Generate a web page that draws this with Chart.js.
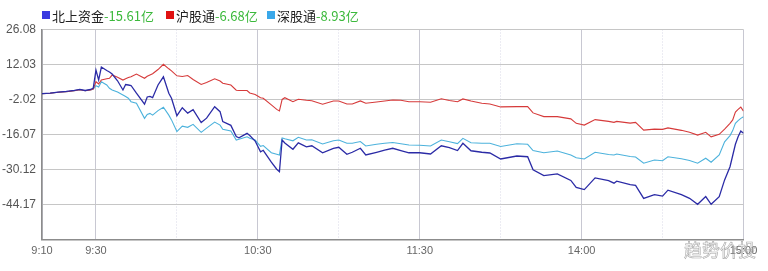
<!DOCTYPE html>
<html><head><meta charset="utf-8">
<script src="https://cdn.jsdelivr.net/npm/chart.js@4/dist/chart.umd.min.js"></script>
<style>
html,body{margin:0;padding:0;background:#fff;}
#wrap{position:relative;width:768px;height:271px;overflow:hidden;}
#chart{position:absolute;left:0;top:0;}
#legend{position:absolute;left:0;top:5px;height:20px;font:13px "Noto Sans CJK SC",sans-serif;white-space:nowrap;}
.item{position:absolute;top:0;display:flex;align-items:center;height:20px;color:#222;}
.sq{width:8px;height:8px;margin-right:2px;}
.val{color:#3cb93c;}
#wm{position:absolute;left:684px;top:236px;font:18px "Noto Sans CJK SC",sans-serif;color:transparent;-webkit-text-stroke:0.6px #a8a8a8;letter-spacing:0px;}
</style>
</head><body>
<div id="wrap">
<canvas id="chart" width="768" height="271"></canvas>
<div id="legend">
  <div class="item" style="left:42px"><span class="sq" style="background:#3a3ae0"></span><span>北上资金</span><span class="val">-15.61亿</span></div>
  <div class="item" style="left:166px"><span class="sq" style="background:#e01212"></span><span>沪股通</span><span class="val">-6.68亿</span></div>
  <div class="item" style="left:267px"><span class="sq" style="background:#3aa8ea"></span><span>深股通</span><span class="val">-8.93亿</span></div>
</div>
<div id="wm">趋势价投</div>
</div>
<script>
const times = ["9:10","9:13","9:16","9:19","9:22","9:24","9:26","9:28","9:29",
"9:30","9:31","9:32","9:34","9:35","9:36","9:38","9:40","9:41","9:42","9:43","9:45","9:48","9:49","9:50","9:51","9:53","9:55","9:57","9:58",
"10:00","10:02","10:04","10:06","10:09","10:11","10:14","10:16","10:17","10:20","10:22","10:23","10:26","10:27","10:29","10:31","10:32","10:35","10:37","10:38","10:39","10:40","10:43","10:45","10:48","10:50","10:54","10:58",
"11:00","11:03","11:05","11:08","11:10","11:14","11:17","11:20","11:23","11:26","11:30",
"13:04","13:08","13:11","13:14","13:16","13:19","13:23","13:26","13:30","13:36","13:40","13:42","13:46","13:51","13:56","13:58",
"14:01","14:05","14:10","14:12","14:13","14:18","14:20","14:23","14:27","14:30","14:32","14:37","14:40","14:43","14:46","14:48","14:51","14:53","14:55","14:56","14:57","14:58","14:59","15:00"];

const northbound = [0.3,0.5,0.9,1.2,1.6,2.0,1.6,2.0,2.6,
9.8,5.8,11.0,9.6,9.0,8.2,5.5,1.8,4.0,3.8,3.6,0.5,-3.9,-1.0,-0.8,-1.3,3.8,7.1,0.5,-1.5,
-8.5,-5.3,-7.5,-6.1,-11.3,-9.5,-4.9,-6.9,-10.9,-12.4,-16.9,-17.4,-15.6,-16.5,-18.7,-23.0,-22.4,-27.2,-30.0,-31.0,-18.3,-19.5,-22.0,-19.4,-21.0,-20.6,-23.4,-21.6,
-21.2,-24.0,-23.2,-21.6,-24.3,-23.2,-22.3,-21.6,-22.5,-23.4,-23.4,
-23.9,-20.6,-21.3,-22.5,-19.6,-22.6,-23.2,-23.5,-25.9,-24.7,-25.0,-30.2,-32.6,-31.9,-34.5,-37.3,
-38.2,-33.5,-34.6,-35.6,-34.8,-36.2,-36.5,-41.7,-40.2,-40.8,-38.4,-40.2,-41.7,-44.1,-41.0,-44.1,-41.0,-34.3,-29.0,-24.5,-20.0,-17.0,-14.7,-15.61];

const shanghai = [0.3,0.5,0.9,1.1,1.5,1.9,1.5,1.8,2.2,
5.1,4.2,5.8,6.3,6.5,7.8,6.9,5.8,6.3,6.8,7.1,8.2,6.5,7.3,7.8,8.3,10.0,12.1,10.3,9.5,
7.5,7.2,7.6,6.0,4.0,4.8,6.3,5.4,4.5,3.8,1.7,1.6,1.6,0.6,0.0,-1.3,-1.5,-4.2,-6.0,-6.6,-2.0,-1.3,-2.9,-1.9,-2.3,-2.5,-3.9,-2.6,
-2.6,-3.8,-3.8,-2.6,-3.5,-3.0,-2.6,-2.2,-2.3,-2.9,-2.9,
-3.1,-1.7,-2.4,-2.9,-1.8,-2.6,-3.5,-3.8,-5.0,-4.9,-4.9,-7.4,-8.9,-8.9,-9.8,-11.6,
-12.3,-10.1,-10.8,-11.2,-10.8,-11.5,-11.2,-14.3,-13.9,-14.0,-13.4,-14.4,-15.2,-16.3,-15.2,-17.0,-16.0,-13.9,-11.6,-10.2,-7.1,-6.0,-5.1,-6.68];

const shenzhen = [0.3,0.5,0.9,1.1,1.5,1.9,1.5,1.8,2.2,
3.5,3.0,5.1,3.8,2.5,1.8,1.0,-0.2,-0.8,-1.5,-2.9,-3.5,-9.6,-8.0,-7.6,-8.3,-6.5,-5.1,-8.3,-10.2,
-14.9,-12.7,-13.2,-12.0,-15.2,-13.5,-11.1,-12.3,-14.0,-14.7,-18.3,-18.0,-17.0,-17.6,-18.3,-20.8,-20.5,-23.4,-24.0,-24.3,-17.5,-17.8,-18.6,-17.2,-18.3,-18.2,-19.9,-18.6,
-18.3,-19.6,-19.6,-18.9,-20.7,-20.0,-19.6,-19.3,-19.8,-20.3,-20.4,
-20.7,-18.3,-19.0,-19.7,-17.6,-19.4,-19.6,-19.6,-20.9,-19.8,-20.0,-22.5,-23.4,-22.7,-24.3,-25.4,
-25.9,-23.2,-24.1,-24.3,-23.9,-24.9,-25.1,-27.6,-26.3,-26.6,-25.0,-25.8,-26.5,-27.6,-25.6,-27.2,-24.3,-19.0,-16.5,-14.5,-11.6,-10.5,-9.6,-8.93];

const yTicks = [-58.22,-44.17,-30.12,-16.07,-2.02,12.03,26.08];
const xGridTimes = ["9:10","9:30","10:00","10:30","11:00","11:30","13:30","14:00","14:30","15:00"];
const xLabelTimes = ["9:10","9:30","10:30","11:30","14:00","15:00"];
const dottedTimes = ["10:00","11:00","13:30","14:30"];

function toMinute(s){
  const p = s.split(':');
  const v = (+p[0])*60 + (+p[1]);
  return v >= 780 ? 140 + (v - 780) : v - 550;
}
const labelMap = {};
xLabelTimes.forEach(t => { labelMap[toMinute(t)] = t; });
const dottedSet = new Set(dottedTimes.map(toMinute));
const pts = arr => times.map((t,i) => ({x: toMinute(t), y: arr[i]}));

new Chart(document.getElementById('chart'), {
  type: 'line',
  data: {
    datasets: [
      {label:'北上资金', data: pts(northbound), borderColor:'#2b2ba6', borderWidth:1.3, pointRadius:0, tension:0},
      {label:'沪股通', data: pts(shanghai), borderColor:'#d63a3a', borderWidth:1.1, pointRadius:0, tension:0},
      {label:'深股通', data: pts(shenzhen), borderColor:'#4cb2dc', borderWidth:1.1, pointRadius:0, tension:0}
    ]
  },
  options: {
    responsive:false, animation:false,
    layout:{padding:{top:29.5,right:24.5,left:0,bottom:0}},
    plugins:{legend:{display:false}, tooltip:{enabled:false}},
    scales:{
      x:{
        type:'linear', min:0, max:260,
        afterBuildTicks: s => { s.ticks = xGridTimes.map(t => ({value: toMinute(t)})); },
        afterFit: s => { s.height = 31.5; },
        ticks:{autoSkip:false, maxRotation:0, padding:5, color:'#666',
          font:{family:'"Liberation Sans", Arial, sans-serif', size:11},
          callback: v => labelMap[v] !== undefined ? labelMap[v] : ''},
        grid:{drawTicks:false, lineWidth:1,
          color: ctx => (ctx.tick && dottedSet.has(ctx.tick.value)) ? '#d8d8e6' : '#c8c8d2'},
        border:{color:'#8c8c8c', width:1.5,
          dash: ctx => (ctx.tick && dottedSet.has(ctx.tick.value)) ? [1,2] : []}
      },
      y:{
        type:'linear', min:-58.22, max:26.08,
        afterBuildTicks: s => { s.ticks = yTicks.map(v => ({value: v})); },
        afterFit: s => { s.width = 42; },
        ticks:{padding:6, color:'#555',
          font:{family:'"Liberation Sans", Arial, sans-serif', size:12},
          callback: v => v === yTicks[0] ? '' : v.toFixed(2)},
        grid:{drawTicks:false, color:'#c6c6c6', lineWidth:1},
        border:{color:'#8c8c8c', width:1.5}
      }
    }
  }
});
</script>
</body></html>
